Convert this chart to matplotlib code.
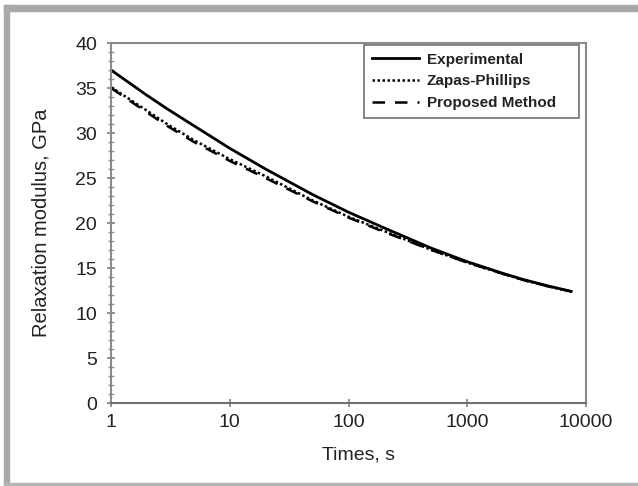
import numpy as np
import matplotlib
matplotlib.use('Agg')
import matplotlib.pyplot as plt
from matplotlib.patches import Rectangle
from matplotlib.ticker import MultipleLocator, FixedLocator, FixedFormatter, NullLocator

# Datos
tiempo = [1, 2, 3, 5, 10, 20, 50, 100, 200, 500, 1000, 2000, 3000, 5000, 7500]
experimental = [37.0, 34.2, 32.65, 30.8, 28.3, 26.0, 23.15, 21.2, 19.45, 17.2, 15.7, 14.4, 13.7, 12.95, 12.4]
zapas = [35.1, 32.5, 30.95, 29.2, 27.1, 25.2, 22.5, 20.7, 19.1, 17.0, 15.6, 14.35, 13.65, 12.9, 12.4]
propuesto = [35.0, 32.3, 30.75, 29.0, 26.9, 25.0, 22.4, 20.6, 19.0, 17.0, 15.6, 14.35, 13.65, 12.9, 12.4]
xticks = [1, 10, 100, 1000, 10000]
xlabels = ['1', '10', '100', '1000', '10000']

plt.rcParams['font.family'] = ['Liberation Sans', 'DejaVu Sans']
gris = '#222222'

fig = plt.figure(figsize=(6.38, 4.86), dpi=100)
# marco gris exterior
fig.patches.append(Rectangle((4/638, 1 - 11/486), 1, 6/486, transform=fig.transFigure,
                             color='#a9a9a9', zorder=0))
fig.patches.append(Rectangle((4/638, 0), 5/638, 1 - 5/486, transform=fig.transFigure,
                             color='#a9a9a9', zorder=0))
fig.patches.append(Rectangle((4/638, 1/486), 1, 2/486, transform=fig.transFigure,
                             color='#b5b5b5', zorder=0))

ax = fig.add_axes([111/638, 83/486, 475/638, 360/486])
ax.plot(tiempo, experimental, color='black', lw=2.0, label='Experimental')
ax.plot(tiempo, zapas, color='black', lw=1.8, ls=(0, (1, 1)), label='Zapas-Phillips')
ax.plot(tiempo, propuesto, color='black', lw=1.8, ls=(0, (5, 4)), label='Proposed Method')

ax.set_xscale('log')
ax.set_xlim(1, 10000)
ax.set_ylim(0, 40)
ax.xaxis.set_major_locator(FixedLocator(xticks))
ax.xaxis.set_major_formatter(FixedFormatter(xlabels))
ax.xaxis.set_minor_locator(NullLocator())
ax.yaxis.set_major_locator(MultipleLocator(5))
ax.yaxis.set_minor_locator(MultipleLocator(1))

for s in ax.spines.values():
    s.set_color('#8a8a8a')
    s.set_linewidth(1.5)
ax.spines['bottom'].set_color('#707070')

ax.tick_params(axis='x', which='major', direction='inout', length=6, width=1.2,
               color='#808080', labelsize=14, labelcolor=gris, pad=5)
ax.tick_params(axis='y', which='major', direction='inout', length=6, width=1.2,
               color='#808080', labelsize=14, labelcolor=gris, pad=7)
ax.tick_params(axis='y', which='minor', direction='inout', length=4, width=1.0,
               color='#909090')

ax.set_xlabel('Times, s', fontsize=14, color=gris, va='top')
ax.xaxis.set_label_coords(0.522, -0.122)
ax.set_ylabel('Relaxation modulus, GPa', fontsize=14.5, color=gris)
ax.yaxis.set_label_coords(-0.128, 0.5)

leg = ax.legend(loc='upper left', bbox_to_anchor=(0.533, 0.0, 0.453, 0.994), mode='expand',
                fancybox=False, edgecolor='#707070', framealpha=1, handlelength=3.1,
                handletextpad=0.5, labelspacing=0.5, borderpad=0.5, borderaxespad=0,
                prop={'weight': 'bold', 'size': 11})
leg.get_frame().set_linewidth(1.2)
for t in leg.get_texts():
    t.set_color(gris)

fig.savefig('out.png', dpi=100)
